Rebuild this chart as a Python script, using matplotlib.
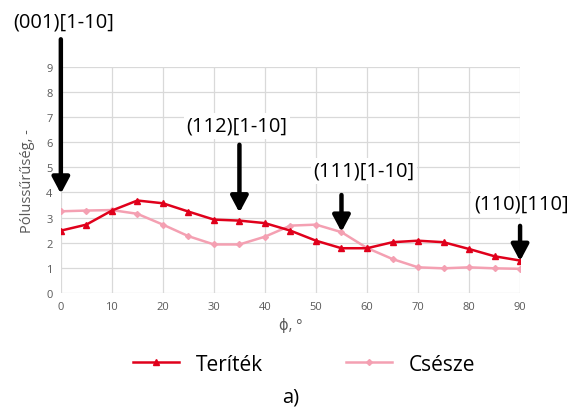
import matplotlib.pyplot as plt
import numpy as np

phi = [0, 5, 10, 15, 20, 25, 30, 35, 40, 45, 50, 55, 60, 65, 70, 75, 80, 85, 90]
teritek = [2.48, 2.72, 3.28, 3.68, 3.57, 3.24, 2.92, 2.88, 2.78, 2.48, 2.08, 1.78, 1.78, 2.02, 2.08, 2.02, 1.75, 1.46, 1.29]
csesze = [3.25, 3.28, 3.3, 3.15, 2.72, 2.26, 1.93, 1.93, 2.24, 2.68, 2.72, 2.42, 1.79, 1.35, 1.02, 0.98, 1.02, 0.98, 0.96]

# orientation labels: text, arrow x, arrow top, arrow tip, text x, text y
labels = ['(001)[1-10]', '(112)[1-10]', '(111)[1-10]', '(110)[110]']
arrow_x = [0, 35, 55, 90]
arrow_top = [10.1, 5.9, 3.9, 2.67]
arrow_tip = [3.95, 3.2, 2.43, 1.27]
text_x = [0.5, 34.5, 59.4, 90.2]
text_y = [10.8, 6.65, 4.86, 3.55]

plt.rcParams['font.family'] = ['Open Sans', 'DejaVu Sans']

fig = plt.figure(figsize=(5.85, 4.14), dpi=100)
ax = fig.add_axes([0.104, 0.29, 0.785, 0.546])

ax.plot(phi, teritek, color='#e0001b', lw=1.8, marker='^', ms=5, label='Teríték', zorder=3)
ax.plot(phi, csesze, color='#f4a0b2', lw=1.8, marker='D', ms=3, label='Csésze', zorder=2)

ax.set_xlim(0, 90)
ax.set_ylim(0, 9)
ax.set_xticks(range(0, 91, 10))
ax.set_yticks(range(0, 10))
ax.grid(True, color='#d9d9d9', lw=0.9)
ax.set_axisbelow(True)
for s in ax.spines.values():
    s.set_visible(False)
ax.tick_params(length=0, labelsize=8, colors='#595959', pad=6)
ax.set_ylabel('Pólussűrűség, -', color='#595959', fontsize=10.5, labelpad=8)
ax.set_xlabel('ϕ, °', color='#595959', fontsize=10.5, labelpad=4)

for i in range(len(labels)):
    ax.annotate('', xy=(arrow_x[i], arrow_tip[i]), xytext=(arrow_x[i], arrow_top[i]),
                arrowprops=dict(arrowstyle='-|>,head_width=0.4,head_length=0.75',
                                color='black', lw=3.2, shrinkA=0, shrinkB=0,
                                mutation_scale=13),
                annotation_clip=False, zorder=5)
    ax.text(text_x[i], text_y[i], labels[i], ha='center', va='center', fontsize=14.5,
            color='black', clip_on=False, zorder=6,
            bbox=dict(facecolor='white', edgecolor='none', pad=2))

fig.legend(loc='center', bbox_to_anchor=(0.52, 0.118), ncol=2, frameon=False,
           fontsize=15, handlelength=2.2, columnspacing=4.0)
fig.text(0.497, 0.04, 'a)', ha='center', va='center', fontsize=14.5)

fig.savefig('out.png', dpi=100)
